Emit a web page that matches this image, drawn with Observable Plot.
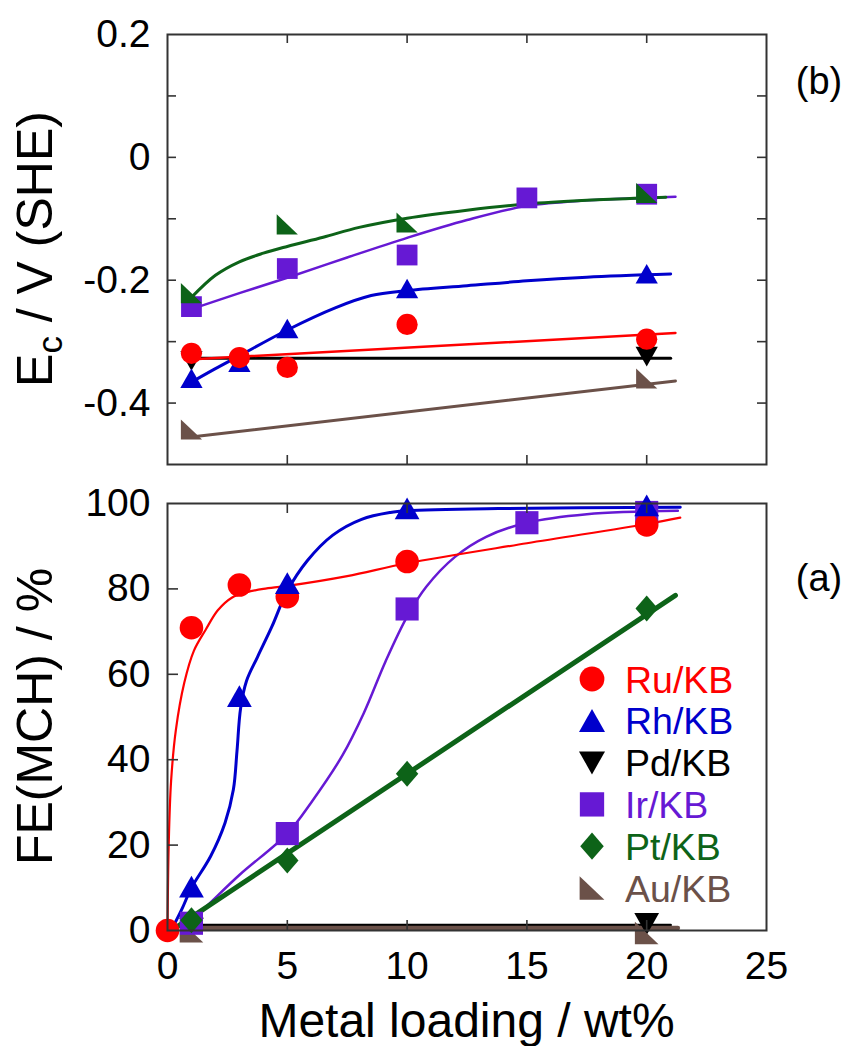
<!DOCTYPE html>
<html>
<head>
<meta charset="utf-8">
<script src="https://cdn.jsdelivr.net/npm/d3@7"></script>
<script src="https://cdn.jsdelivr.net/npm/@observablehq/plot@0.6"></script>
<style>
  html, body { margin: 0; padding: 0; background: #fff; }
  #chart { width: 857px; height: 1046px; position: relative; }
  #chart svg { display: block; overflow: visible; }
</style>
</head>
<body>
<div id="chart"></div>
<script>
const FONT = "'Liberation Sans', Arial, Helvetica, sans-serif";

// ---- categories / colours ----
const catalysts = ["Ru/KB", "Rh/KB", "Pd/KB", "Ir/KB", "Pt/KB", "Au/KB"];
const colors    = ["#ff0000", "#0000cc", "#000000", "#6619d4", "#0d6318", "#6b5149"];

// ---- tick values ----
const xTickLabels = [0, 5, 10, 15, 20, 25];
const xTickMarks  = [5, 10, 15, 20];
const ecTickLabels = [0.2, 0, -0.2, -0.4];
const ecTickMarks  = [-0.4, -0.3, -0.2, -0.1, 0, 0.1];
const feTickLabels = [0, 20, 40, 60, 80, 100];
const feTickMarks  = [20, 40, 60, 80];

// ---- panel (b): Ec / V (SHE) vs metal loading (wt%) ----
const ecRu = [[1, -0.319], [3, -0.326], [5, -0.342], [10, -0.272], [20, -0.296]];
const ecRh = [[1, -0.36], [3, -0.334], [5, -0.279], [10, -0.214], [20, -0.19]];
const ecPd = [[1, -0.331], [20, -0.324]];
const ecIr = [[1, -0.243], [5, -0.181], [10, -0.159], [15, -0.066], [20, -0.06]];
const ecPt = [[1, -0.221], [5, -0.109], [10, -0.106], [20, -0.058]];
const ecAu = [[1, -0.443], [20, -0.36]];

// guide curves in panel (b)
const ecFitRu = [[0.9, -0.329], [21.2, -0.286]];
const ecFitRh = [[1, -0.366], [2, -0.344], [3, -0.323], [5, -0.281], [7, -0.245], [8.5, -0.225], [10, -0.217], [12.5, -0.209], [15, -0.201], [17.5, -0.195], [21, -0.19]];
const ecFitPd = [[0.8, -0.327], [21, -0.327]];
const ecFitIr = [[1, -0.247], [3, -0.221], [5, -0.196], [7.5, -0.163], [10, -0.131], [12.5, -0.102], [15, -0.079], [17.5, -0.07], [20, -0.066], [21.2, -0.064]];
const ecFitPt = [[1, -0.228], [2, -0.192], [3, -0.17], [4, -0.156], [5, -0.145], [6.5, -0.13], [8, -0.114], [10, -0.099], [12.5, -0.086], [15, -0.076], [17.5, -0.07], [20, -0.066], [20.8, -0.065]];
const ecFitAu = [[0.8, -0.456], [21.2, -0.364]];

// ---- panel (a): FE(MCH) / % vs metal loading (wt%) ----
const feRu = [[0, 0], [1, 70.9], [3, 80.9], [5, 78.2], [10, 86.4], [20, 95]];
const feRh = [[1, 10.2], [3, 54.8], [5, 81.3], [10, 98.8], [20, 99.5]];
const fePd = [[1, 0.5], [20, 1.6]];
const feIr = [[1, 1.7], [5, 22.7], [10, 75.3], [15, 95.5], [20, 97.9]];
const fePt = [[1, 2.4], [5, 16.4], [10, 36.7], [20, 75.4]];
const feAu = [[1, -0.2], [20, -0.6]];

const feFitRu = [[0, 0], [0.05, 20], [0.15, 35], [0.35, 47], [0.7, 58], [1.1, 65.5], [1.6, 70.5], [2.1, 75], [2.7, 78], [3.3, 79.2], [4, 80], [5, 80.7], [7.5, 83], [10, 86], [15, 90.7], [20, 95.2], [21.4, 96.7]];
const feFitRh = [[0.15, 0], [0.6, 5], [1, 10], [1.8, 17.4], [2.4, 25.2], [2.75, 33], [2.9, 42], [3.05, 52], [3.3, 58.5], [3.76, 64.1], [4.36, 71.2], [5, 79.5], [5.85, 86.7], [6.9, 92.6], [8.1, 96.3], [9.3, 97.9], [10, 98.3], [13.8, 98.8], [21.4, 99.1]];
const feFitPd = [[1, 1.3], [21, 1.3]];
const feFitIr = [[0.6, 0.5], [1.5, 5], [3, 13], [5, 22.7], [6, 30], [7.3, 41], [8.2, 51], [9.1, 63], [10, 73.5], [10.8, 80.5], [12, 87.5], [13.3, 92.2], [15, 95.5], [17.5, 97.5], [21.3, 98.3]];
const feFitPt = [[0.3, 0.5], [21.2, 78.5]];
const feFitAu = [[1.2, 0.6], [21.3, 0.6]];

// ---- marker shapes ----
const R = s => Math.sqrt(s / Math.PI);
function poly(c, pts) { c.moveTo(pts[0][0], pts[0][1]); for (let i = 1; i < pts.length; i++) c.lineTo(pts[i][0], pts[i][1]); c.closePath(); }
const SYM = {
  circle:  {draw(c, s) { const r = R(s); c.moveTo(r, 0); c.arc(0, 0, r, 0, 2 * Math.PI); c.closePath(); }},
  up:      {draw(c, s) { const r = R(s); poly(c, [[0, -0.95 * r], [1.05 * r, 0.9 * r], [-1.05 * r, 0.9 * r]]); }},
  down:    {draw(c, s) { const r = R(s); poly(c, [[-1.05 * r, -0.9 * r], [1.05 * r, -0.9 * r], [0, 0.95 * r]]); }},
  square:  {draw(c, s) { const r = R(s) * 0.98; poly(c, [[-r, -r], [r, -r], [r, r], [-r, r]]); }},
  diamond: {draw(c, s) { const r = R(s); poly(c, [[0, -1.1 * r], [0.95 * r, 0], [0, 1.1 * r], [-0.95 * r, 0]]); }},
  corner:  {draw(c, s) { const r = R(s); poly(c, [[-r, -0.95 * r], [r, 0.95 * r], [-r, 0.95 * r]]); }}
};

const W = 857;
const ML = 167, MR = 91;
const FW = W - ML - MR;

// ---------- top panel (b) ----------
const topH = 482, topMT = 34, topMB = 18;
const topFH = topH - topMT - topMB;

const ecSeries = [
  {pts: ecPd, fit: ecFitPd, c: colors[2], sym: SYM.down,   w: 3},
  {pts: ecAu, fit: ecFitAu, c: colors[5], sym: SYM.corner, w: 3},
  {pts: ecRh, fit: ecFitRh, c: colors[1], sym: SYM.up,     w: 3},
  {pts: ecRu, fit: ecFitRu, c: colors[0], sym: SYM.circle, w: 2.5},
  {pts: ecIr, fit: ecFitIr, c: colors[3], sym: SYM.square, w: 2.5},
  {pts: ecPt, fit: ecFitPt, c: colors[4], sym: SYM.corner, w: 3}
];

const px = d => d[0], py = d => d[1];
const tickStyle = {stroke: "#333", strokeWidth: 1.6};

const topPlot = Plot.plot({
  width: W, height: topH,
  marginLeft: ML, marginRight: MR, marginTop: topMT, marginBottom: topMB,
  x: {domain: [0, 25], axis: null},
  y: {domain: [-0.5, 0.2]},
  style: {fontFamily: FONT, color: "#000", background: "transparent", overflow: "visible"},
  marks: [
    ...ecSeries.map(s => Plot.line(s.fit, {x: px, y: py, curve: "catmull-rom", stroke: s.c, strokeWidth: s.w})),
    ...ecSeries.map(s => Plot.dot(s.pts, {x: px, y: py, symbol: s.sym, r: 10.6, fill: s.c, stroke: "none"})),
    Plot.tickY(ecTickMarks, {y: d => d, insetRight: FW - 9, ...tickStyle}),
    Plot.tickY(ecTickMarks, {y: d => d, insetLeft: FW - 9, ...tickStyle}),
    Plot.tickX(xTickMarks, {x: d => d, insetTop: topFH - 9, ...tickStyle}),
    Plot.tickX(xTickMarks, {x: d => d, insetBottom: topFH - 9, ...tickStyle}),
    Plot.axisY({ticks: ecTickLabels, tickSize: 0, tickPadding: 17, fontSize: 39, tickFormat: d => String(d), label: null}),
    Plot.frame({stroke: "#333", strokeWidth: 2})
  ]
});

// ---------- bottom panel (a) ----------
const botH = 564, botMT = 21, botMB = 116;
const botFH = botH - botMT - botMB;

const feSeries = [
  {pts: fePd, fit: feFitPd, c: colors[2], sym: SYM.down,    w: 2.5},
  {pts: feAu, fit: feFitAu, c: colors[5], sym: SYM.corner,  w: 4.5},
  {pts: feIr, fit: feFitIr, c: colors[3], sym: SYM.square,  w: 2.5},
  {pts: fePt, fit: feFitPt, c: colors[4], sym: SYM.diamond, w: 5},
  {pts: feRu, fit: feFitRu, c: colors[0], sym: SYM.circle,  w: 2.2},
  {pts: feRh, fit: feFitRh, c: colors[1], sym: SYM.up,      w: 3}
];

const botPlot = Plot.plot({
  width: W, height: botH,
  marginLeft: ML, marginRight: MR, marginTop: botMT, marginBottom: botMB,
  x: {domain: [0, 25]},
  y: {domain: [0, 100]},
  style: {fontFamily: FONT, color: "#000", background: "transparent", overflow: "visible"},
  marks: [
    ...feSeries.map(s => Plot.line(s.fit, {x: px, y: py, curve: "catmull-rom", stroke: s.c, strokeWidth: s.w})),
    ...feSeries.map(s => Plot.dot(s.pts, {x: px, y: py, symbol: s.sym, r: 11.8, fill: s.c, stroke: "none"})),
    Plot.tickY(feTickMarks, {y: d => d, insetRight: FW - 11, ...tickStyle}),
    Plot.tickX(xTickMarks, {x: d => d, insetTop: botFH - 10, ...tickStyle}),
    Plot.tickX(xTickMarks, {x: d => d, insetBottom: botFH - 10, ...tickStyle}),
    Plot.axisY({ticks: feTickLabels, tickSize: 0, tickPadding: 17, fontSize: 39, tickFormat: d => String(d), label: null}),
    Plot.axisX({ticks: xTickLabels, tickSize: 0, tickPadding: 21, fontSize: 39, tickFormat: d => String(d), label: null}),
    Plot.frame({stroke: "#333", strokeWidth: 2})
  ]
});

const chart = document.getElementById("chart");
chart.appendChild(topPlot);
chart.appendChild(botPlot);

// ---------- titles, panel letters, legend ----------
const ts = d3.select(topPlot), bs = d3.select(botPlot);

// y title (b)
const t1 = ts.append("text")
  .attr("transform", `translate(52,${topMT + topFH / 2}) rotate(-90)`)
  .attr("text-anchor", "middle").attr("font-family", FONT).attr("font-size", 50).attr("fill", "#000");
t1.append("tspan").text("E");
t1.append("tspan").attr("font-size", 35).attr("dy", 10).text("c");
t1.append("tspan").attr("dy", -10).text(" / V (SHE)");

ts.append("text").attr("x", 819).attr("y", 81).attr("dy", "0.35em")
  .attr("text-anchor", "middle").attr("font-family", FONT).attr("font-size", 38).text("(b)");

// y title (a)
bs.append("text")
  .attr("transform", `translate(52,${botMT + botFH / 2}) rotate(-90)`)
  .attr("text-anchor", "middle").attr("font-family", FONT).attr("font-size", 50).attr("fill", "#000")
  .text("FE(MCH) / %");

bs.append("text").attr("x", 819).attr("y", 96).attr("dy", "0.35em")
  .attr("text-anchor", "middle").attr("font-family", FONT).attr("font-size", 38).text("(a)");

// x title
bs.append("text").attr("x", ML + FW / 2).attr("y", 555)
  .attr("text-anchor", "middle").attr("font-family", FONT).attr("font-size", 48).text("Metal loading / wt%");

// legend
const legSyms = [SYM.circle, SYM.up, SYM.down, SYM.square, SYM.diamond, SYM.corner];
const leg = bs.append("g").attr("transform", "translate(592,197)");
catalysts.forEach((name, i) => {
  const g = leg.append("g").attr("transform", `translate(0,${i * 41.8})`);
  g.append("path").attr("d", d3.symbol(legSyms[i], 12.4 * 12.4 * Math.PI)()).attr("fill", colors[i]);
  g.append("text").attr("x", 33).attr("dy", "0.36em").attr("text-anchor", "start").attr("font-family", FONT)
    .attr("font-size", 37.5).attr("fill", colors[i]).text(name);
});
</script>
</body>
</html>
